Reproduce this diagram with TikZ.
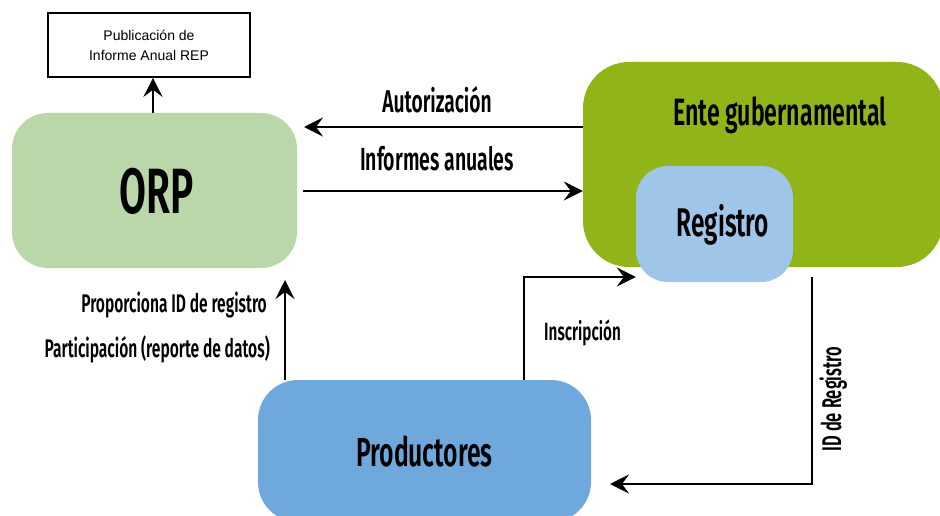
\documentclass[tikz,border=0pt]{standalone}
\usepackage{fontspec}
\setmainfont{Liberation Sans}
\newfontfamily\cf[FakeStretch=0.61, BoldFont={* SemiBold}]{Fira Sans}
\usetikzlibrary{arrows.meta}
\definecolor{orpgreen}{HTML}{B9D7A8}
\definecolor{entegreen}{HTML}{91B419}
\definecolor{regblue}{HTML}{9FC5E8}
\definecolor{prodblue}{HTML}{6FA8DC}
\tikzset{
  blob/.style={draw=none, rounded corners=#1, inner sep=0pt, text depth=0pt, font=\cf\bfseries},
  lbl/.style={inner sep=0pt, font=\cf\bfseries\fontsize{25.5}{27}\selectfont},
  conn/.style={line width=1.8pt, -{Stealth[length=19pt,width=19pt,inset=7pt]}},
}
\begin{document}
\begin{tikzpicture}[x=1pt,y=-1pt]
\useasboundingbox (0,0) rectangle (940,516);
% boxes
\node[draw=black, line width=1.6pt, minimum width=202pt, minimum height=64pt, inner sep=0pt,
      align=center, font=\fontsize{14}{20}\selectfont] (pub) at (149,45)
      {Publicación de\\Informe Anual REP};
\node[blob=36pt, fill=orpgreen, minimum width=285pt, minimum height=155pt,
      font=\cf\bfseries\fontsize{64}{70}\selectfont] (orp) at (154.5,190.5) {\hspace*{5pt}ORP};
\node[blob=46pt, fill=entegreen, minimum width=360pt, minimum height=205pt] (ente) at (763,164.5) {};
\node[inner sep=0pt, anchor=base, font=\cf\bfseries\fontsize{38}{40}\selectfont] (entet) at (780,126) {Ente gubernamental};
\node[blob=32pt, fill=regblue, minimum width=157pt, minimum height=116pt] (reg) at (714.5,224) {};
\node[inner sep=0pt, anchor=base, font=\cf\bfseries\fontsize{40}{42}\selectfont] (regt) at (723,236) {Registro};
\node[blob=40pt, fill=prodblue, minimum width=333pt, minimum height=142pt,
      font=\cf\bfseries\fontsize{40.5}{44}\selectfont] (prod) at (424.5,451) {Productores};
% coordinates
\coordinate (orptop) at (153,113);
\coordinate (autotip) at (304,127);
\coordinate (infstart) at (303,191);
\coordinate (uptip) at (285,280);
\coordinate (upstart) at (285,380);
\coordinate (insstart) at (524,380);
\coordinate (idstart) at (812,277);
\coordinate (idtip) at (610,484);
% connectors
\draw[conn] (orptop) -- (pub.south -| orptop);
\draw[conn] (ente.west |- autotip) -- (autotip);
\draw[conn] (infstart) -- (ente.west |- infstart);
\draw[conn] (upstart) -- (uptip);
\draw[conn] (insstart) |- (reg.west |- 0,277);
\draw[conn] (idstart) |- (idtip);
% labels
\node[lbl, anchor=base, font=\cf\bfseries\fontsize{31.5}{34}\selectfont] (lauto) at (437,113) {Autorización};
\node[lbl, anchor=base, font=\cf\bfseries\fontsize{32}{34}\selectfont] (linf) at (437,171) {Informes anuales};
\node[lbl, anchor=base east] (lprop) at (267,312) {Proporciona ID de registro};
\node[lbl, anchor=base east] (lpart) at (270,357) {Participación (reporte de datos)};
\node[lbl, anchor=base west, font=\cf\bfseries\fontsize{25}{27}\selectfont] (lins) at (544,340) {Inscripción};
\node[lbl, anchor=base, rotate=90, font=\cf\bfseries\fontsize{27}{29}\selectfont] (lid) at (841,399) {ID de Registro};
\end{tikzpicture}
\end{document}
